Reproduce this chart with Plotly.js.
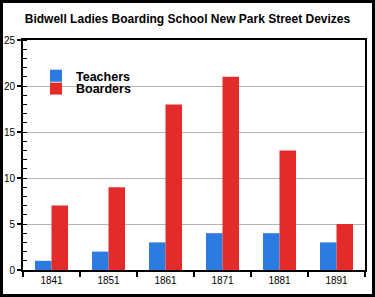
<!DOCTYPE html>
<html><head><meta charset="utf-8">
<script src="https://cdn.plot.ly/plotly-3.0.1.min.js"></script>
<style>
html,body{margin:0;padding:0;background:#fff;}
#frame{width:375px;height:297px;box-sizing:border-box;border:3px solid #000;background:#fff;}
#chart{width:369px;height:291px;}
</style></head><body>
<div id="frame"><div id="chart"></div></div>
<script>
const years = ['1841','1851','1861','1871','1881','1891'];
const teachers = [1,2,3,4,4,3];
const boarders = [7,9,18,21,13,5];

const legFont = {size:12.5, color:'#000', family:'Liberation Sans, Arial, sans-serif', weight:'bold'};
const data = [
  {type:'bar', name:'Teachers', x:years, y:teachers, marker:{color:'#2b7be0'}, legend:'legend'},
  {type:'bar', name:'Boarders', x:years, y:boarders, marker:{color:'#e32b2b'}, legend:'legend2'}
];
const layout = {
  width:369, height:291,
  margin:{l:20, r:7, t:37, b:24},
  paper_bgcolor:'#fff', plot_bgcolor:'#fff',
  font:{family:'Liberation Sans, Arial, sans-serif', color:'#000', size:10},
  title:{text:'<b>Bidwell Ladies Boarding School New Park Street Devizes</b>', font:{size:12, color:'#000'}, x:0.5, xanchor:'center', y:0.945, yanchor:'middle'},
  barmode:'group', bargap:0.42, bargroupgap:0,
  showlegend:true,
  legend:{x:0.038, y:0.843, xanchor:'left', yanchor:'middle', bgcolor:'rgba(0,0,0,0)', font:legFont, itemwidth:30},
  legend2:{x:0.038, y:0.787, xanchor:'left', yanchor:'middle', bgcolor:'rgba(0,0,0,0)', font:legFont, itemwidth:30},
  shapes:[{type:'rect', xref:'paper', yref:'paper', x0:0.079, x1:0.327, y0:0.77, y1:0.83, fillcolor:'#fff', line:{width:0}, layer:'below'}],
  xaxis:{type:'category', showline:true, linecolor:'#000', linewidth:2, mirror:true, ticks:'outside', tickson:'boundaries', ticklen:5, tickwidth:1.5, tickcolor:'#000', showgrid:false, tickfont:{size:10}},
  yaxis:{range:[0,25], dtick:5, showline:true, linecolor:'#000', linewidth:2, mirror:true, ticks:'outside', ticklen:4, tickwidth:1.5, tickcolor:'#000', showgrid:true, gridcolor:'#b4b4b4', gridwidth:1, zeroline:false, tickfont:{size:10},
    minor:{dtick:1, ticks:'inside', ticklen:4, tickcolor:'#000', tickwidth:1, showgrid:false}}
};
Plotly.newPlot('chart', data, layout, {displayModeBar:false, staticPlot:true});
</script></body></html>
